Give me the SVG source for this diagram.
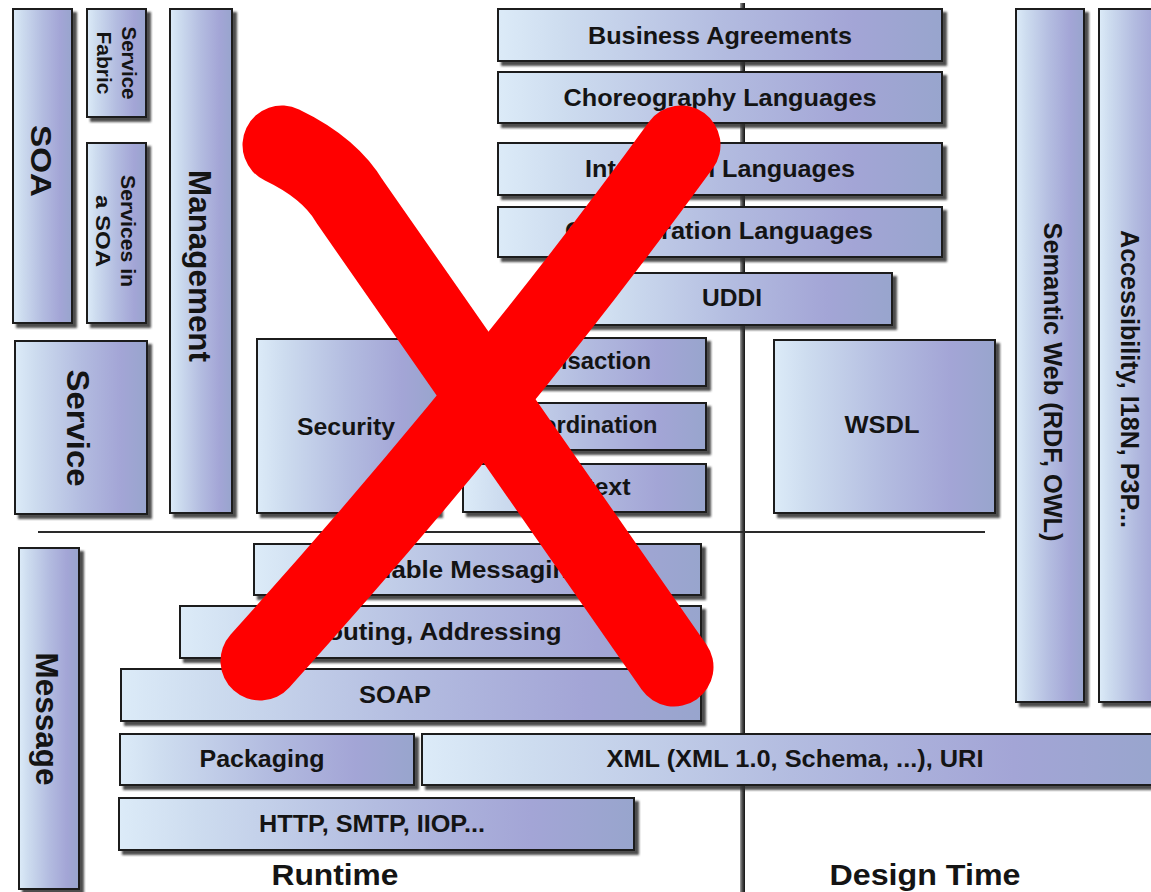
<svg xmlns="http://www.w3.org/2000/svg" width="1151" height="892" viewBox="0 0 1151 892">
<defs>
<linearGradient id="g" x1="0" y1="0" x2="1" y2="0">
<stop offset="0" stop-color="#dcebf8"/>
<stop offset="0.15" stop-color="#cddcef"/>
<stop offset="0.5" stop-color="#b3bce0"/>
<stop offset="0.8" stop-color="#a3a5d6"/>
<stop offset="1" stop-color="#98a5cd"/>
</linearGradient>
<linearGradient id="vl" x1="0" y1="0" x2="1" y2="0">
<stop offset="0" stop-color="#a8a8a8"/>
<stop offset="0.4" stop-color="#555"/>
<stop offset="1" stop-color="#111"/>
</linearGradient>
<filter id="sh" x="-20%" y="-20%" width="150%" height="150%">
<feDropShadow dx="4" dy="4" stdDeviation="1.2" flood-color="#2e2e2e" flood-opacity="0.85"/>
</filter>
</defs>
<style>
.box{fill:url(#g);stroke:#1f1f1f;stroke-width:2;filter:url(#sh)}
.t{font-family:"Liberation Sans",Arial,sans-serif;font-weight:bold;fill:#141414;text-anchor:middle}
.x{fill:none;stroke:#ff0000;stroke-width:79;stroke-linecap:round;stroke-linejoin:round}
</style>
<rect width="1151" height="892" fill="#ffffff"/>
<g id="connectors">
<rect x="740" y="3" width="5" height="889" fill="url(#vl)"/>
<line x1="38" y1="532" x2="985" y2="532" stroke="#2a2a2a" stroke-width="2"/>
</g>
<g id="soa"><rect class="box" x="13" y="9" width="59" height="314"/>
<text class="t" font-size="30" transform="translate(42,161) rotate(90)" y="10.8" textLength="72" lengthAdjust="spacingAndGlyphs">SOA</text></g>
<g id="service-fabric"><rect class="box" x="87" y="9" width="59" height="108"/>
<text class="t" font-size="21" transform="translate(129,63) rotate(90)" y="7.5" textLength="73" lengthAdjust="spacingAndGlyphs">Service</text>
<text class="t" font-size="21" transform="translate(104,63) rotate(90)" y="7.5" textLength="63" lengthAdjust="spacingAndGlyphs">Fabric</text></g>
<g id="services-in-soa"><rect class="box" x="87" y="143" width="59" height="180"/>
<text class="t" font-size="21" transform="translate(128.5,231) rotate(90)" y="7.5" textLength="112" lengthAdjust="spacingAndGlyphs">Services in</text>
<text class="t" font-size="21" transform="translate(103.5,231) rotate(90)" y="7.5" textLength="72" lengthAdjust="spacingAndGlyphs">a SOA</text></g>
<g id="management"><rect class="box" x="170" y="9" width="62" height="504"/>
<text class="t" font-size="31" transform="translate(200,266) rotate(90)" y="11" textLength="192" lengthAdjust="spacingAndGlyphs">Management</text></g>
<g id="service"><rect class="box" x="15" y="341" width="132" height="173"/>
<text class="t" font-size="31" transform="translate(78,428) rotate(90)" y="11" textLength="117" lengthAdjust="spacingAndGlyphs">Service</text></g>
<g id="message"><rect class="box" x="19" y="548" width="60" height="341"/>
<text class="t" font-size="31" transform="translate(47,719) rotate(90)" y="11" textLength="133" lengthAdjust="spacingAndGlyphs">Message</text></g>
<g id="business-agreements"><rect class="box" x="498" y="9" width="444" height="52"/>
<text class="t" font-size="24" x="720" y="44" textLength="264" lengthAdjust="spacingAndGlyphs">Business Agreements</text></g>
<g id="choreography-languages"><rect class="box" x="498" y="72" width="444" height="51"/>
<text class="t" font-size="24" x="720" y="106" textLength="313" lengthAdjust="spacingAndGlyphs">Choreography Languages</text></g>
<g id="integration-languages"><rect class="box" x="498" y="143" width="444" height="52"/>
<text class="t" font-size="24" x="720" y="177" textLength="270" lengthAdjust="spacingAndGlyphs">Integration Languages</text></g>
<g id="orchestration-languages"><rect class="box" x="498" y="207" width="444" height="50"/>
<text class="t" font-size="24" x="719" y="239" textLength="308" lengthAdjust="spacingAndGlyphs">Orchestration Languages</text></g>
<g id="uddi"><rect class="box" x="572" y="273" width="320" height="52"/>
<text class="t" font-size="24" x="732" y="306" textLength="60" lengthAdjust="spacingAndGlyphs">UDDI</text></g>
<g id="security"><rect class="box" x="257" y="339" width="181" height="174"/>
<text class="t" font-size="24" x="346" y="435" textLength="98" lengthAdjust="spacingAndGlyphs">Security</text></g>
<g id="transaction"><rect class="box" x="463" y="338" width="243" height="48"/>
<text class="t" font-size="24" x="584" y="369" textLength="134" lengthAdjust="spacingAndGlyphs">Transaction</text></g>
<g id="coordination"><rect class="box" x="463" y="403" width="243" height="47"/>
<text class="t" font-size="24" x="584" y="433" textLength="147" lengthAdjust="spacingAndGlyphs">Coordination</text></g>
<g id="context"><rect class="box" x="463" y="464" width="243" height="48"/>
<text class="t" font-size="24" x="584" y="495" textLength="93" lengthAdjust="spacingAndGlyphs">Context</text></g>
<g id="wsdl"><rect class="box" x="774" y="340" width="221" height="173"/>
<text class="t" font-size="24" x="882" y="433" textLength="75" lengthAdjust="spacingAndGlyphs">WSDL</text></g>
<g id="semantic-web"><rect class="box" x="1016" y="9" width="68" height="693"/>
<text class="t" font-size="25" transform="translate(1053,382) rotate(90)" y="9" textLength="319" lengthAdjust="spacingAndGlyphs">Semantic Web (RDF, OWL)</text></g>
<g id="accessibility"><rect class="box" x="1099" y="9" width="70" height="693"/>
<text class="t" font-size="25" transform="translate(1130,379) rotate(90)" y="9" textLength="298" lengthAdjust="spacingAndGlyphs">Accessibility, I18N, P3P...</text></g>
<g id="reliable-messaging"><rect class="box" x="254" y="544" width="447" height="51"/>
<text class="t" font-size="24" x="464" y="578" textLength="240" lengthAdjust="spacingAndGlyphs">Reliable Messaging</text></g>
<g id="routing-addressing"><rect class="box" x="180" y="606" width="521" height="52"/>
<text class="t" font-size="24" x="435" y="640" textLength="253" lengthAdjust="spacingAndGlyphs">Routing, Addressing</text></g>
<g id="soap"><rect class="box" x="121" y="669" width="580" height="52"/>
<text class="t" font-size="24" x="395" y="703" textLength="72" lengthAdjust="spacingAndGlyphs">SOAP</text></g>
<g id="packaging"><rect class="box" x="120" y="734" width="294" height="51"/>
<text class="t" font-size="23" x="262" y="767" textLength="125" lengthAdjust="spacingAndGlyphs">Packaging</text></g>
<g id="xml"><rect class="box" x="422" y="734" width="740" height="51"/>
<text class="t" font-size="23" x="795" y="767" textLength="377" lengthAdjust="spacingAndGlyphs">XML (XML 1.0, Schema, ...), URI</text></g>
<g id="http"><rect class="box" x="119" y="798" width="515" height="52"/>
<text class="t" font-size="23" x="372" y="832" textLength="226" lengthAdjust="spacingAndGlyphs">HTTP, SMTP, IIOP...</text></g>
<g id="runtime"><text class="t" font-size="30" x="335" y="885" textLength="127" lengthAdjust="spacingAndGlyphs">Runtime</text></g>
<g id="design-time"><text class="t" font-size="30" x="925" y="885" textLength="191" lengthAdjust="spacingAndGlyphs">Design Time</text></g>
<g id="cross">
<path class="x" d="M282,145 Q330,168 350,202 L674,667"/>
<path class="x" d="M681,145 Q497,398 260,661"/>
</g>
</svg>
